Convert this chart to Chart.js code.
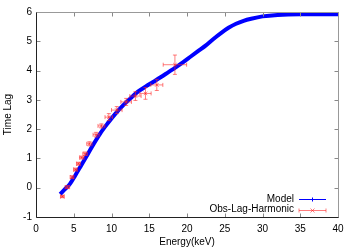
<!DOCTYPE html>
<html>
<head>
<meta charset="utf-8">
<script src="https://cdn.jsdelivr.net/npm/chart.js@4.4.1/dist/chart.umd.min.js"></script>
<style>
  html, body { margin: 0; padding: 0; background: #fff; }
  #wrap { width: 356px; height: 249px; }
</style>
</head>
<body>
<div id="wrap"><canvas id="lagChart" width="356" height="249"></canvas></div>
<script>
// observed lag points (keV, lag) with errors
var obsEnergy = [3.49, 4.15, 4.77, 5.22, 5.61, 6.06, 6.5, 7.07, 7.96, 8.66, 9.64, 10.7, 11.94, 13.17, 14.5, 16.0, 18.4];
var obsLag    = [-0.30, 0.02, 0.36, 0.62, 0.82, 1.03, 1.16, 1.50, 1.81, 2.11, 2.41, 2.65, 2.93, 3.13, 3.22, 3.51, 4.20];
var obsErrE   = [0.25, 0.3, 0.25, 0.25, 0.25, 0.3, 0.3, 0.35, 0.4, 0.45, 0.5, 0.7, 0.7, 0.75, 0.75, 0.8, 1.55];
var obsErrLag = [0.04, 0.05, 0.05, 0.05, 0.05, 0.05, 0.06, 0.07, 0.08, 0.07, 0.12, 0.12, 0.12, 0.15, 0.2, 0.19, 0.33];

// model curve
var modelEnergy = [3.2, 3.8, 4.5, 5.2, 6.0, 6.8, 7.6, 8.5, 9.5, 10.5, 11.5, 12.5, 13.5, 14.5, 15.5, 16.5, 17.5, 18.5, 19.5, 20.5, 21.5, 22.5, 23.5, 24.5, 25.5, 26.5, 27.5, 28.5, 30, 32, 35, 40];
var modelLag    = [-0.22, -0.06, 0.13, 0.42, 0.77, 1.12, 1.48, 1.85, 2.2, 2.52, 2.8, 3.05, 3.28, 3.45, 3.61, 3.77, 3.94, 4.11, 4.29, 4.48, 4.67, 4.86, 5.08, 5.28, 5.46, 5.6, 5.7, 5.77, 5.85, 5.9, 5.92, 5.92];

var xTicks = [0, 5, 10, 15, 20, 25, 30, 35, 40];
var yTicks = [-1, 0, 1, 2, 3, 4, 5, 6];

var obsColor = 'rgba(255,40,40,0.6)';
var fontFam = '"Liberation Sans", Arial, sans-serif';

var obsPts = obsEnergy.map(function (e, i) { return { x: e, y: obsLag[i] }; });
var modelPts = modelEnergy.map(function (e, i) { return { x: e, y: modelLag[i] }; });

// frame + inward ticks on all four sides, gnuplot style
var framePlugin = {
  id: 'frame',
  afterDatasetsDraw: function (chart) {
    var ctx = chart.ctx, a = chart.chartArea;
    var xs = chart.scales.x, ys = chart.scales.y;
    var L = Math.round(a.left) + 0.5, R = Math.round(a.right) + 0.5;
    var T = Math.round(a.top) + 0.5, B = Math.round(a.bottom) + 0.5;
    ctx.save();
    ctx.lineWidth = 1;
    ctx.strokeStyle = '#888';
    ctx.beginPath();
    xTicks.forEach(function (t) {
      var px = Math.round(xs.getPixelForValue(t)) + 0.5;
      ctx.moveTo(px, B); ctx.lineTo(px, B - 4);
      ctx.moveTo(px, T); ctx.lineTo(px, T + 4);
    });
    yTicks.forEach(function (t) {
      var py = Math.round(ys.getPixelForValue(t)) + 0.5;
      ctx.moveTo(L, py); ctx.lineTo(L + 4, py);
      ctx.moveTo(R, py); ctx.lineTo(R - 4, py);
    });
    ctx.stroke();
    ctx.strokeStyle = '#999';
    ctx.beginPath();
    ctx.moveTo(L, T); ctx.lineTo(R, T); ctx.lineTo(R, B);
    ctx.stroke();
    ctx.strokeStyle = '#222';
    ctx.beginPath();
    ctx.moveTo(L, T); ctx.lineTo(L, B); ctx.lineTo(R, B);
    ctx.stroke();
    ctx.restore();
  }
};

// x and y error bars for the observed points
var errorBarPlugin = {
  id: 'errbars',
  afterDatasetsDraw: function (chart) {
    var ctx = chart.ctx;
    var xs = chart.scales.x, ys = chart.scales.y;
    ctx.save();
    ctx.strokeStyle = obsColor;
    ctx.lineWidth = 1;
    ctx.beginPath();
    obsEnergy.forEach(function (e, i) {
      var px = xs.getPixelForValue(e), py = ys.getPixelForValue(obsLag[i]);
      var x0 = xs.getPixelForValue(e - obsErrE[i]), x1 = xs.getPixelForValue(e + obsErrE[i]);
      var y0 = ys.getPixelForValue(obsLag[i] - obsErrLag[i]), y1 = ys.getPixelForValue(obsLag[i] + obsErrLag[i]);
      ctx.moveTo(x0, py); ctx.lineTo(x1, py);
      ctx.moveTo(x0, py - 2); ctx.lineTo(x0, py + 2);
      ctx.moveTo(x1, py - 2); ctx.lineTo(x1, py + 2);
      ctx.moveTo(px, y0); ctx.lineTo(px, y1);
      ctx.moveTo(px - 2, y0); ctx.lineTo(px + 2, y0);
      ctx.moveTo(px - 2, y1); ctx.lineTo(px + 2, y1);
    });
    ctx.stroke();
    ctx.restore();
  }
};

// key in the lower right corner
var keyPlugin = {
  id: 'key',
  afterDraw: function (chart) {
    var ctx = chart.ctx;
    var textRight = 294, lx0 = 299, lx1 = 326, mid = 312.5;
    var rows = [{ label: 'Model', y: 199, color: '#0000ff', kind: 'plus' },
                { label: 'Obs-Lag-Harmonic', y: 209.5, color: obsColor, kind: 'err' }];
    ctx.save();
    ctx.font = '10px ' + fontFam;
    ctx.textAlign = 'right';
    ctx.textBaseline = 'middle';
    rows.forEach(function (r) {
      ctx.fillStyle = '#000';
      ctx.fillText(r.label, textRight, r.y);
      var y = Math.round(r.y) + 0.5;
      ctx.strokeStyle = r.color;
      ctx.lineWidth = 1;
      ctx.beginPath();
      ctx.moveTo(lx0, y); ctx.lineTo(lx1, y);
      if (r.kind === 'plus') {
        ctx.moveTo(mid, y - 2); ctx.lineTo(mid, y + 2);
      } else {
        ctx.moveTo(lx0, y - 2); ctx.lineTo(lx0, y + 2);
        ctx.moveTo(lx1, y - 2); ctx.lineTo(lx1, y + 2);
        ctx.moveTo(mid - 2, y - 2); ctx.lineTo(mid + 2, y + 2);
        ctx.moveTo(mid - 2, y + 2); ctx.lineTo(mid + 2, y - 2);
      }
      ctx.stroke();
    });
    ctx.restore();
  }
};

var ctxLag = document.getElementById('lagChart').getContext('2d');
var chart = new Chart(ctxLag, {
  type: 'scatter',
  data: {
    datasets: [
      {
        label: 'Obs-Lag-Harmonic',
        data: obsPts,
        showLine: false,
        pointStyle: 'crossRot',
        pointRadius: 2.5,
        borderWidth: 1,
        borderColor: obsColor,
        backgroundColor: obsColor
      },
      {
        label: 'Model',
        data: modelPts,
        showLine: true,
        borderColor: '#0000ff',
        borderWidth: 4,
        pointRadius: 0,
        cubicInterpolationMode: 'monotone',
        fill: false
      }
    ]
  },
  options: {
    responsive: false,
    animation: false,
    layout: { padding: { top: 12, right: 18, left: 0, bottom: 0 } },
    plugins: { legend: { display: false }, tooltip: { enabled: false } },
    scales: {
      x: {
        type: 'linear',
        min: 0, max: 40,
        afterBuildTicks: function (s) { s.ticks = xTicks.map(function (v) { return { value: v }; }); },
        afterFit: function (s) { s.height = 32; },
        grid: { display: false, drawTicks: false },
        border: { display: false },
        ticks: { padding: 6, color: '#000', font: { family: fontFam, size: 10 }, maxRotation: 0 },
        title: { display: true, text: 'Energy(keV)', color: '#000', font: { family: fontFam, size: 10 }, padding: { top: 0, bottom: 1 } }
      },
      y: {
        type: 'linear',
        min: -1, max: 6,
        afterBuildTicks: function (s) { s.ticks = yTicks.map(function (v) { return { value: v }; }); },
        afterFit: function (s) { s.width = 36; },
        grid: { display: false, drawTicks: false },
        border: { display: false },
        ticks: { padding: 4, color: '#000', font: { family: fontFam, size: 10 } },
        title: { display: true, text: 'Time Lag', color: '#000', font: { family: fontFam, size: 10 }, padding: { top: 2, bottom: 0 } }
      }
    }
  },
  plugins: [framePlugin, errorBarPlugin, keyPlugin]
});
</script>
</body>
</html>
